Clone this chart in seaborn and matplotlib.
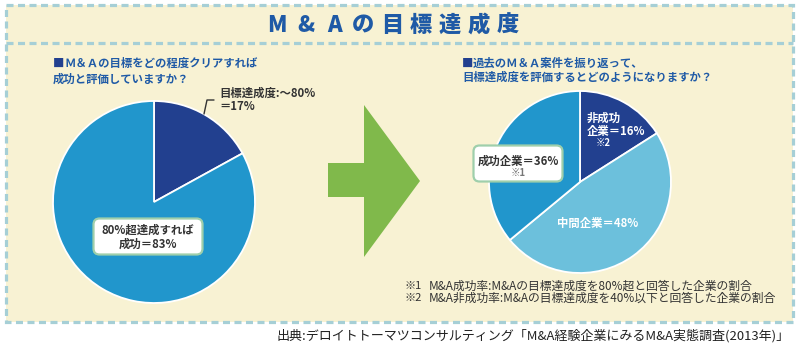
import matplotlib
matplotlib.use("Agg")
import matplotlib.pyplot as plt
import seaborn as sns
from matplotlib.patches import Rectangle, FancyBboxPatch, Polygon

sns.set_theme(style="white")
plt.rcParams['font.family'] = ['Noto Sans CJK JP', 'DejaVu Sans']

# ---- data ----
title_chars = ["M", "&", "A", "の", "目", "標", "達", "成", "度"]
left_question = ["Ｍ＆Ａの目標をどの程度クリアすれば", "成功と評価していますか？"]
left_labels = ["目標達成度:～80%", "80%超達成すれば成功"]
left_values = [17, 83]
right_question = ["過去のＭ＆Ａ案件を振り返って、", "目標達成度を評価するとどのようになりますか？"]
right_labels = ["非成功企業", "中間企業", "成功企業"]
right_values = [16, 48, 36]
notes = [("※1", "M&A成功率:M&Aの目標達成度を80%超と回答した企業の割合"),
         ("※2", "M&A非成功率:M&Aの目標達成度を40%以下と回答した企業の割合")]
source = "出典:デロイトトーマツコンサルティング「M&A経験企業にみるM&A実態調査(2013年)」"

NAVY = "#22408f"
BLUE = "#2196cc"
LIGHT = "#6cc0dc"
CREAM = "#f8f2d3"
DASH = "#a6cfd6"
TBLUE = "#1f5aa6"
TXT = "#333333"
GREEN = "#80b94b"
BOXEDGE = "#9fcfab"

W, H = 800, 346
fig = plt.figure(figsize=(W / 100, H / 100), dpi=100)
fig.patch.set_facecolor("white")

# background axes in pixel coords
bg = fig.add_axes([0, 0, 1, 1])
bg.set_xlim(0, W)
bg.set_ylim(H, 0)
bg.axis("off")
bg.add_patch(Rectangle((6, 5), 787, 317, facecolor=CREAM, edgecolor="none"))
dash = (0, (2.2, 1.4))
bg.add_patch(Rectangle((6, 5), 787, 317, facecolor="none", edgecolor=DASH,
                       lw=2.3, linestyle=dash))
bg.plot([6, 793], [43, 43], color=DASH, lw=2.3, linestyle=dash)
# arrow
bg.add_patch(Polygon([(328, 163), (364, 163), (364, 105), (420, 181),
                      (364, 257), (364, 197), (328, 197)],
                     closed=True, facecolor=GREEN, edgecolor="none"))


def pie_axes(cx, cy, r):
    ax = fig.add_axes([(cx - r) / W, (H - cy - r) / H, 2 * r / W, 2 * r / H])
    return ax


wp = dict(edgecolor="white", linewidth=1.3)
axl = pie_axes(154, 202, 101)
axl.pie(left_values, colors=[NAVY, BLUE], startangle=90, counterclock=False,
        wedgeprops=wp, radius=1)
axl.set_xlim(-1, 1); axl.set_ylim(-1, 1); axl.set_aspect("equal"); axl.axis("off")

axr = pie_axes(580, 182, 91)
axr.pie(right_values, colors=[NAVY, LIGHT, BLUE], startangle=90, counterclock=False,
        wedgeprops=wp, radius=1)
axr.set_xlim(-1, 1); axr.set_ylim(-1, 1); axr.set_aspect("equal"); axr.axis("off")

# overlay for texts
ov = fig.add_axes([0, 0, 1, 1])
ov.set_xlim(0, W)
ov.set_ylim(H, 0)
ov.axis("off")
ov.patch.set_alpha(0)

# title
for i, ch in enumerate(title_chars):
    ov.text(277 + i * 28.8, 25, ch, ha="center", va="center", fontsize=16,
            fontweight="black", color=TBLUE)

# questions
fs = 8.2
ov.text(53, 63, "■", ha="left", va="center", fontsize=fs, color=NAVY, fontweight="bold")
ov.text(64, 63, left_question[0], ha="left", va="center", fontsize=fs, color=TBLUE, fontweight="bold")
ov.text(53, 79, left_question[1], ha="left", va="center", fontsize=fs, color=TBLUE, fontweight="bold")
ov.text(462, 63, "■", ha="left", va="center", fontsize=fs, color=NAVY, fontweight="bold")
ov.text(473, 63, right_question[0], ha="left", va="center", fontsize=fs, color=TBLUE, fontweight="bold")
ov.text(462, 77, right_question[1], ha="left", va="center", fontsize=fs, color=TBLUE, fontweight="bold")

# left pie labels
ov.text(219, 93, left_labels[0], ha="left", va="center", fontsize=fs, color=TXT, fontweight="bold")
ov.text(219, 107, f"＝{left_values[0]}%", ha="left", va="center", fontsize=fs, color=TXT, fontweight="bold")
ov.plot([204, 207, 214], [114, 100, 100], color=TXT, lw=1.0)

ov.add_patch(FancyBboxPatch((95, 220), 106, 33, boxstyle="round,pad=1.5,rounding_size=6",
                            facecolor="white", edgecolor=BOXEDGE, lw=1.6))
ov.text(148, 230, "80%超達成すれば", ha="center", va="center", fontsize=fs, color=TXT, fontweight="bold")
ov.text(148, 244, f"成功＝{left_values[1]}%", ha="center", va="center", fontsize=fs, color=TXT, fontweight="bold")

# right pie labels
ov.text(587, 118, "非成功", ha="left", va="center", fontsize=fs, color="white", fontweight="bold")
ov.text(587, 131, f"企業＝{right_values[0]}%", ha="left", va="center", fontsize=fs, color="white", fontweight="bold")
ov.text(603, 143, "※2", ha="center", va="center", fontsize=6.8, color="white", fontweight="bold")
ov.text(598, 223, f"{right_labels[1]}＝{right_values[1]}%", ha="center", va="center", fontsize=fs,
        color="white", fontweight="bold")

ov.add_patch(FancyBboxPatch((475, 147), 86, 33, boxstyle="round,pad=1.5,rounding_size=6",
                            facecolor="white", edgecolor=BOXEDGE, lw=1.6))
ov.text(518, 161, f"{right_labels[2]}＝{right_values[2]}%", ha="center", va="center", fontsize=fs,
        color=TXT, fontweight="bold")
ov.text(518, 173, "※1", ha="center", va="center", fontsize=6.8, color="#777777", fontweight="bold")

# notes
for k, (mark, txt) in enumerate(notes):
    y = 286 + k * 12
    ov.text(405, y, mark, ha="left", va="center", fontsize=8.0, color=TXT)
    ov.text(429, y, txt, ha="left", va="center", fontsize=8.5, color=TXT)

ov.text(790, 336, source, ha="right", va="center", fontsize=9.4, color="#222222")

fig.savefig("out.png", dpi=100, facecolor="white")
